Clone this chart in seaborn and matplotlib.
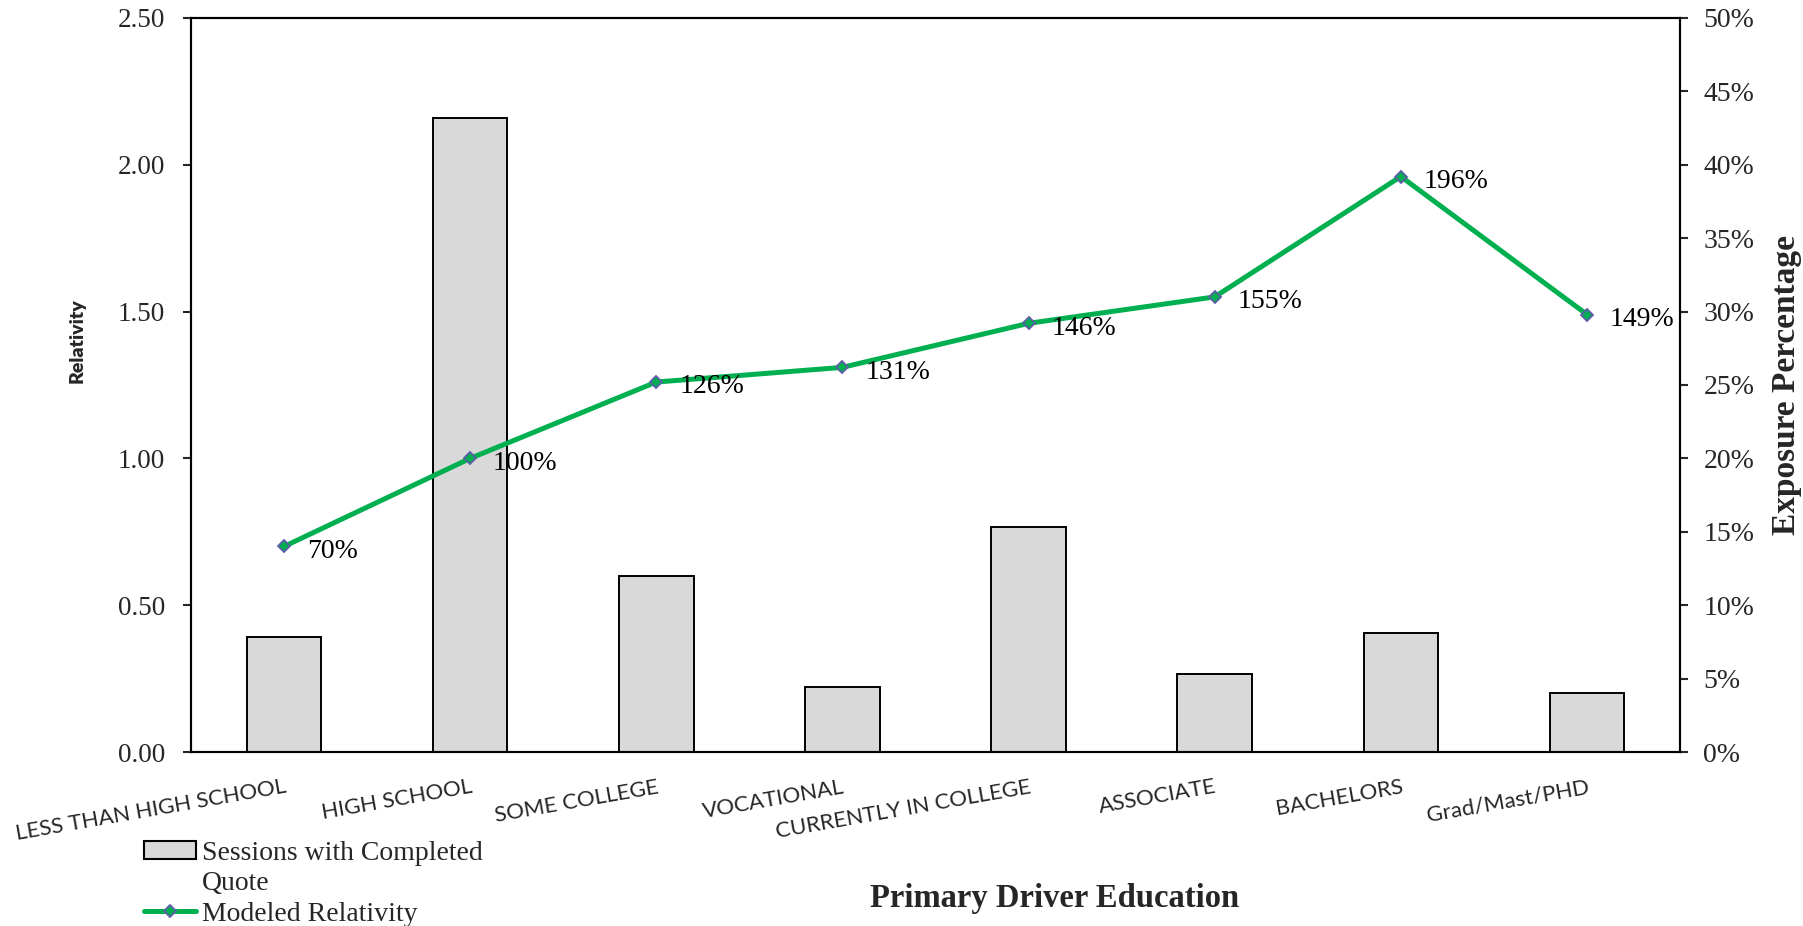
import matplotlib
matplotlib.use("Agg")
import matplotlib.pyplot as plt
import seaborn as sns
import pandas as pd
from matplotlib.patches import Patch
from matplotlib.lines import Line2D
from matplotlib.ticker import FixedLocator, FuncFormatter

# ---- data ----
categories = ["LESS THAN HIGH SCHOOL", "HIGH SCHOOL", "SOME COLLEGE", "VOCATIONAL",
              "CURRENTLY IN COLLEGE", "ASSOCIATE", "BACHELORS", "Grad/Mast/PHD"]
exposure = [0.078, 0.432, 0.120, 0.044, 0.153, 0.053, 0.081, 0.040]
relativity = [0.70, 1.00, 1.26, 1.31, 1.46, 1.55, 1.96, 1.49]
relativity_ticks = [0.0, 0.5, 1.0, 1.5, 2.0, 2.5]
exposure_ticks = [0.00, 0.05, 0.10, 0.15, 0.20, 0.25, 0.30, 0.35, 0.40, 0.45, 0.50]

BAR_COLOR = "#D9D9D9"
LINE_COLOR = "#00B050"
MARKER_EDGE = "#5B5EA6"

sns.set_style("white")
plt.rcParams["font.family"] = ["Liberation Serif", "DejaVu Serif"]

df = pd.DataFrame({"category": categories, "exposure": exposure,
                   "relativity": relativity})
df["pos"] = range(len(df))

fig = plt.figure(figsize=(18.03, 9.26), dpi=100)
ax = fig.add_axes([0.1059, 0.1879, 0.8259, 0.7927])
ax2 = ax.twinx()

# exposure bars on the right-hand axis
sns.barplot(data=df, x="category", y="exposure", ax=ax2, color=BAR_COLOR,
            saturation=1, edgecolor="black", linewidth=1.4, width=0.4)

# modeled relativity line on the left-hand axis, drawn above the bars
sns.lineplot(data=df, x="pos", y="relativity", ax=ax, sort=False,
             color=LINE_COLOR, linewidth=3.6, marker="D", markersize=6,
             markerfacecolor=LINE_COLOR, markeredgecolor=MARKER_EDGE,
             markeredgewidth=1.3)
ax.set_zorder(ax2.get_zorder() + 1)
ax.patch.set_visible(False)

for x, v in zip(df["pos"], df["relativity"]):
    ax.annotate(f"{round(v * 100)}%", xy=(x, v), xytext=(16.5, -3.5),
                textcoords="offset points", ha="left", va="center",
                fontsize=20, color="black")

# axes limits and ticks
ax.set_xlim(-0.5, len(categories) - 0.5)
ax.set_ylim(relativity_ticks[0], relativity_ticks[-1])
ax2.set_ylim(exposure_ticks[0], exposure_ticks[-1])
ax.yaxis.set_major_locator(FixedLocator(relativity_ticks))
ax.yaxis.set_major_formatter(FuncFormatter(lambda v, p: f"{v:.2f}"))
ax2.yaxis.set_major_locator(FixedLocator(exposure_ticks))
ax2.yaxis.set_major_formatter(FuncFormatter(lambda v, p: f"{round(v * 100)}%"))

ax.set_xticks(range(len(categories)))
ax.set_xticklabels(categories, rotation=10, ha="right", va="top",
                   rotation_mode="anchor", family="Lato", fontsize=16)
ax.tick_params(axis="x", length=0, pad=18)
ax.tick_params(axis="y", direction="out", length=5.8, width=1.5, pad=13,
               labelsize=19.5, left=True)
ax2.tick_params(axis="y", direction="out", length=5.8, width=1.5, pad=11,
                labelsize=20, right=True)
ax2.set_xlabel("")

for a in (ax, ax2):
    for s in a.spines.values():
        s.set_visible(True)
        s.set_color("black")
        s.set_linewidth(1.5)
    a.grid(False)

# axis titles
ax.set_ylabel("Relativity", family="Lato", fontweight="heavy", fontsize=14)
ax.yaxis.set_label_coords(-0.071, 0.56)
ax2.set_ylabel("Exposure Percentage", fontweight="bold", fontsize=24,
               labelpad=12)
ax.set_xlabel("Primary Driver Education", fontweight="bold", fontsize=23.5)
ax.xaxis.set_label_coords(0.58, -0.178)

# legend below the axis, lower-left
handles = [
    Patch(facecolor=BAR_COLOR, edgecolor="black", linewidth=1.5),
    Line2D([], [], alpha=0),
    Line2D([], [], color=LINE_COLOR, linewidth=3.6, marker="D", markersize=6,
           markerfacecolor=LINE_COLOR, markeredgecolor=MARKER_EDGE,
           markeredgewidth=1.3),
]
labels = ["Sessions with Completed", "Quote", "Modeled Relativity"]
fig.legend(handles, labels, loc="upper left",
           bbox_to_anchor=(144 / 1803, 1 - 841 / 926), frameon=False,
           borderpad=0, borderaxespad=0, handlelength=1.87, handleheight=0.6,
           handletextpad=0.2, labelspacing=0.19, prop={"size": 20})

fig.savefig("out.png", dpi=100)
